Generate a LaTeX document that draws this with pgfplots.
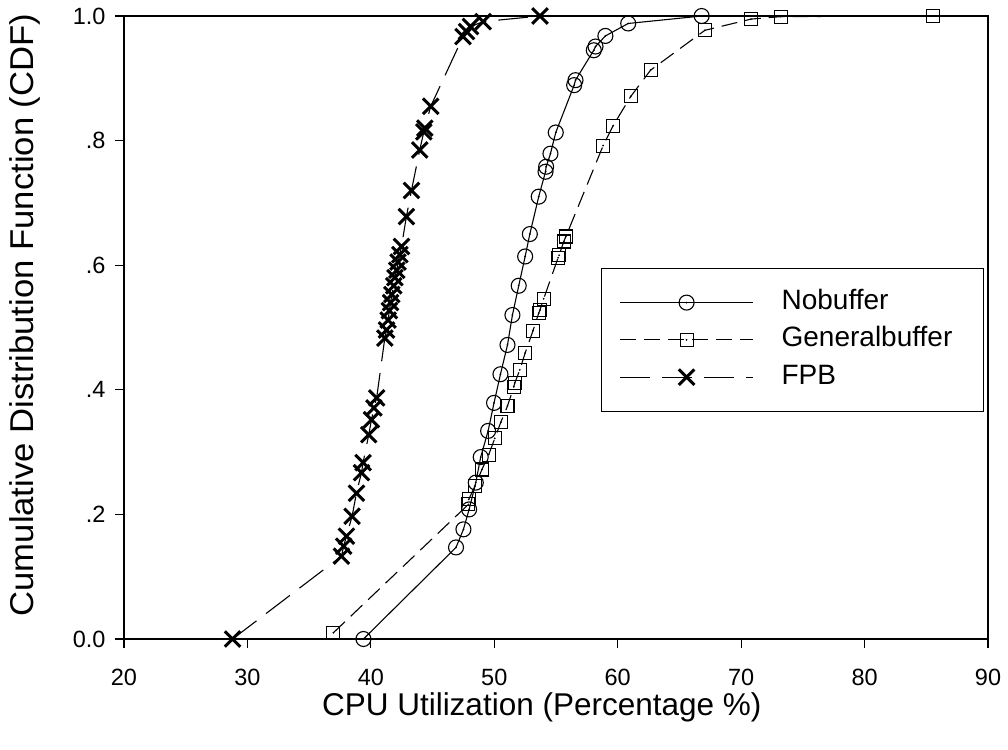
\documentclass[border=0pt]{standalone}
\usepackage{fontspec}
\setmainfont{Liberation Sans}
\newfontfamily\ylabelfont[FakeStretch=1.05]{Liberation Sans}
\usepackage{pgfplots}
\pgfplotsset{compat=1.18}

\pgfdeclareplotmark{odot}{%
  \pgfpathcircle{\pgfpointorigin}{\pgfplotmarksize}\pgfusepathqstroke
  \pgfpathcircle{\pgfpointorigin}{1pt}\pgfusepathqfill}
\pgfdeclareplotmark{sqdot}{%
  \pgfpathrectanglecorners{\pgfpoint{-\pgfplotmarksize}{-\pgfplotmarksize}}{\pgfpoint{\pgfplotmarksize}{\pgfplotmarksize}}\pgfusepathqstroke
  \pgfpathcircle{\pgfpointorigin}{1pt}\pgfusepathqfill}

\pgfplotstableread{
x y
39.4 0.0
46.9 0.147
47.5 0.176
47.96 0.208
48.5 0.251
48.9 0.292
49.5 0.334
49.98 0.379
50.5 0.425
51.07 0.472
51.47 0.520
51.98 0.567
52.5 0.614
52.88 0.650
53.6 0.710
54.15 0.750
54.2 0.758
54.55 0.779
54.98 0.813
56.47 0.889
56.58 0.897
58.06 0.945
58.2 0.951
59.0 0.968
60.85 0.988
66.8 1.0
}\nobuffer

\pgfplotstableread{
x y
36.96 0.010
47.9 0.216
47.93 0.224
48.42 0.245
49.0 0.272
49.55 0.296
50.04 0.322
50.53 0.348
51.07 0.374
51.58 0.405
51.66 0.411
52.07 0.432
52.5 0.459
53.14 0.495
53.6 0.523
53.7 0.528
54.0 0.546
55.17 0.612
55.25 0.616
55.63 0.638
55.8 0.646
58.82 0.792
59.63 0.824
61.06 0.871
62.66 0.913
67.06 0.977
70.8 0.995
73.2 0.999
85.57 1.0
}\generalbuffer

\pgfplotstableread{
x y
28.8 0.0
37.62 0.133
37.8 0.149
38.02 0.165
38.48 0.197
38.83 0.234
39.24 0.267
39.37 0.283
39.83 0.328
40.05 0.352
40.25 0.371
40.47 0.387
41.13 0.483
41.27 0.496
41.4 0.512
41.5 0.527
41.6 0.540
41.7 0.553
41.85 0.567
41.95 0.580
42.1 0.592
42.2 0.605
42.35 0.617
42.48 0.630
42.88 0.678
43.29 0.720
43.96 0.785
44.29 0.814
44.37 0.820
44.85 0.855
47.47 0.967
47.75 0.975
48.07 0.983
49.1 0.991
53.7 1.0
}\fpb

\begin{document}
\begin{tikzpicture}
\begin{axis}[
  at={(0,0)}, anchor=south west,
  scale only axis, width=864pt, height=623pt,
  xmin=20, xmax=90, ymin=0, ymax=1,
  xtick={20,30,40,50,60,70,80,90},
  ytick={0,0.2,0.4,0.6,0.8,1},
  yticklabels={0.0,.2,.4,.6,.8,1.0},
  tick align=outside, xtick pos=bottom, ytick pos=left,
  major tick length=9pt,
  tick style={line width=1.2pt, black},
  axis line style={line width=1.2pt},
  /pgf/number format/assume math mode=true,
  ticklabel style={font=\fontsize{23.5}{28}\selectfont},
  xticklabel style={anchor=base, yshift=-37pt},
  yticklabel style={xshift=-6pt},
  xlabel={CPU Utilization (Percentage \%)},
  ylabel={Cumulative Distribution Function (CDF)},
  xlabel style={font=\fontsize{31.5}{36}\selectfont, at={(axis description cs:0.4835,-0.122)}, anchor=base},
  ylabel style={font=\ylabelfont\fontsize{33}{38}\selectfont, at={(axis description cs:-0.1053,0.52)}, anchor=base},
  clip=false,
  legend cell align=left,
  legend image code/.code={\draw[mark repeat=2,mark phase=2,#1] plot coordinates {(0pt,0pt) (66.5pt,0pt) (133pt,0pt)};},
  legend style={at={(axis description cs:0.552,0.5955)}, anchor=north west,
    draw=black, line width=1.2pt, fill=white,
    inner xsep=18pt, inner ysep=21pt,
    font=\fontsize{28}{34}\selectfont,
    row sep=11.3pt,
    nodes={inner sep=0pt, text height=20pt, text depth=6pt, text width=184pt, align=left},
    /tikz/column 1/.style={column sep=28pt}},
]
\addplot[black, line width=1.1pt, mark=odot, mark size=7.5pt, mark options={solid, line width=1.1pt}] table[x=x,y=y] {\nobuffer};
\addlegendentry{Nobuffer}
\addplot[black, line width=1.1pt, dash pattern=on 16pt off 8pt, mark=sqdot, mark size=6.5pt, mark options={solid, line width=1.1pt}] table[x=x,y=y] {\generalbuffer};
\addlegendentry{Generalbuffer}
\addplot[black, line width=1.1pt, dash pattern=on 30pt off 12pt, mark=x, mark size=11pt, mark options={solid, line width=3pt}] table[x=x,y=y] {\fpb};
\addlegendentry{FPB}
\end{axis}
\pgfresetboundingbox
\path[use as bounding box] ([shift={(-124pt,-110pt)}]current axis.south west) rectangle ([shift={(884pt,639pt)}]current axis.south west);
\end{tikzpicture}
\end{document}
